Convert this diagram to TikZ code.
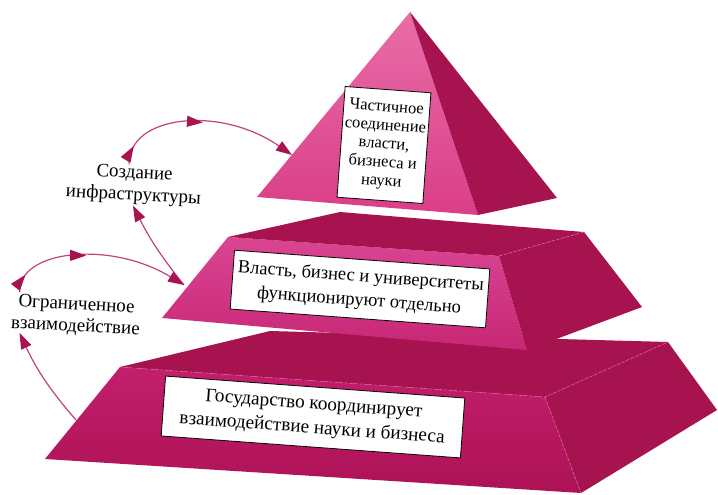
\documentclass[tikz,border=0pt]{standalone}
\usepackage{fontspec}
\setmainfont{Liberation Serif}
\newfontfamily\rufont{Liberation Serif}
\usepackage{tikz}
\usetikzlibrary{arrows.meta,calc,decorations.markings}
\definecolor{pyrtop}{HTML}{E86DA7}
\definecolor{pyrbot}{HTML}{DA3E87}
\definecolor{midtop}{HTML}{DA4592}
\definecolor{midbot}{HTML}{C72775}
\definecolor{bottop}{HTML}{C21F6C}
\definecolor{botbot}{HTML}{AD1255}
\definecolor{tierdark}{HTML}{A6134F}
\definecolor{seamline}{HTML}{D8609C}
\definecolor{linkline}{HTML}{C2417F}
\definecolor{linkhead}{HTML}{A8144F}

\begin{document}
\begin{tikzpicture}[x=1pt,y=-1pt,
  >={Triangle[length=16pt,width=11pt,color=linkhead]},
  seam/.style={draw=seamline,line width=0.6pt,dash pattern=on 3pt off 2pt},
  txtbox/.style={draw=black,line width=0.8pt,fill=white,align=center,rotate=-4.2,inner sep=2pt,
    font=\rufont\fontsize{18.5}{24}\selectfont},
  lbl/.style={align=center,rotate=-3,inner sep=1pt,font=\rufont\fontsize{19}{22}\selectfont},
  link/.style={draw=linkline,line width=1.2pt},
  midtips/.style 2 args={postaction={decorate},decoration={markings,
    mark=at position #1 with {\arrow{>}},mark=at position #2 with {\arrow{>}}}}]
\useasboundingbox (0,0) rectangle (718,495);
\shade[top color=bottop,bottom color=botbot] (120,367) -- (545,397) -- (581,493) -- (45,459) -- cycle;
\fill[tierdark] (120,367) -- (270,331) -- (668,342) -- (545,397) -- cycle;
\fill[tierdark] (545,397) -- (668,342) -- (717,410) -- (581,493) -- cycle;
\draw[seam] (120,367) -- (545,397) -- (668,342);
\draw[seam] (545,397) -- (581,493);
\shade[top color=midtop,bottom color=midbot] (228,237) -- (499,256) -- (527,350) -- (162,318) -- cycle;
\fill[tierdark] (228,237) -- (340,212) -- (584,232) -- (499,256) -- cycle;
\fill[tierdark] (499,256) -- (584,232) -- (642,307) -- (527,350) -- cycle;
\draw[seam] (499,256) -- (584,232);
\shade[top color=pyrtop,bottom color=pyrbot] (410,12) -- (257,197) -- (478,215) -- cycle;
\fill[tierdark] (410,12) -- (478,215) -- (557,198) -- cycle;
\coordinate (pyrL) at (292,155);
\coordinate (midL) at (184,285);
\coordinate (botL) at (76,420);
\node[txtbox,minimum width=86pt,minimum height=111pt,font=\rufont\fontsize{16.5}{18.5}\selectfont] (topbox) at (384,145)
  {Частичное\\соединение\\власти,\\бизнеса и\\науки};
\node[txtbox,minimum width=256pt,minimum height=59pt] (midbox) at (360,289)
  {Власть, бизнес и университеты\\функционируют отдельно};
\node[txtbox,minimum width=300pt,minimum height=60pt,font=\rufont\fontsize{19.2}{24}\selectfont] (botbox) at (313,417)
  {Государство координирует\\взаимодействие науки и бизнеса};
\node[lbl] (infra) at (134,185) {Создание\\инфраструктуры};
\node[lbl] (interact) at (76,316) {Ограниченное\\взаимодействие};
\draw[link,midtips={0.1}{0.5},->] ($(infra.north)+(-6,0)$) .. controls (128,115) and (220,105) .. (pyrL);
\draw[link,->] (midL) to[bend left=6] (infra.south);
\draw[link,midtips={0.1}{0.45},->] ($(interact.north west)+(8,0)$) .. controls (18,250) and (110,240) .. (midL);
\draw[link,->] (botL) to[bend left=8] ($(interact.south west)+(10,0)$);
\end{tikzpicture}
\end{document}
